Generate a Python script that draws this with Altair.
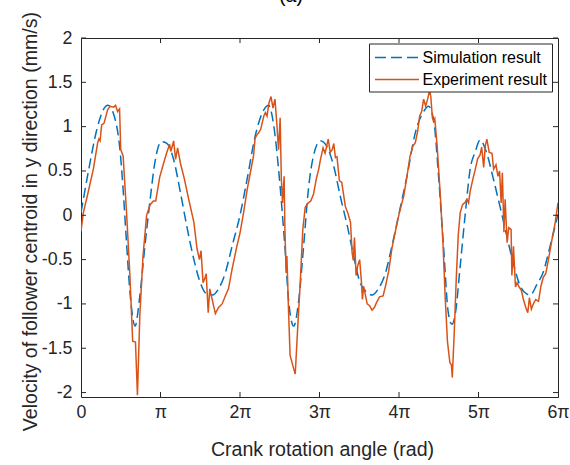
import altair as alt
import pandas as pd

# x values in units of pi (rad / pi)
sim_x = [0.00, 0.09, 0.20, 0.28, 0.34, 0.43, 0.49, 0.53, 0.57, 0.62, 0.68, 0.74, 0.80, 0.87, 0.93,
         1.01, 1.08, 1.165, 1.25, 1.33, 1.42, 1.50, 1.585, 1.65, 1.73, 1.815, 1.90,
         2.00, 2.09, 2.19, 2.30, 2.36, 2.42, 2.485, 2.53, 2.57, 2.61, 2.675, 2.74, 2.80, 2.86, 2.935,
         3.01, 3.09, 3.18, 3.26, 3.35, 3.43, 3.51, 3.60, 3.66, 3.74, 3.83, 3.91,
         4.00, 4.10, 4.205, 4.31, 4.37, 4.435, 4.50, 4.56, 4.62, 4.665, 4.71, 4.77, 4.835, 4.895, 4.96,
         5.02, 5.10, 5.19, 5.27, 5.36, 5.44, 5.525, 5.61, 5.65, 5.735, 5.815, 5.90, 6.00]
sim_y = [0.03, 0.48, 0.97, 1.19, 1.24, 1.08, 0.74, 0.29, -0.27, -0.91, -1.25, -0.91, -0.38, 0.18, 0.60,
         0.83, 0.81, 0.63, 0.26, -0.12, -0.50, -0.76, -0.89, -0.90, -0.83, -0.65, -0.35,
         0.00, 0.41, 0.89, 1.19, 1.24, 1.04, 0.52, 0.05, -0.42, -0.95, -1.25, -0.95, -0.35, 0.29, 0.71,
         0.84, 0.78, 0.55, 0.22, -0.12, -0.46, -0.76, -0.87, -0.90, -0.83, -0.65, -0.35,
         0.02, 0.44, 0.93, 1.17, 1.23, 1.08, 0.41, -0.35, -1.10, -1.23, -1.10, -0.57, 0.03, 0.52, 0.72,
         0.85, 0.71, 0.40, 0.10, -0.25, -0.55, -0.80, -0.89, -0.90, -0.78, -0.64, -0.35, 0.01]

exp_x = [0.00, 0.03, 0.09, 0.155, 0.21, 0.225, 0.24, 0.26, 0.29, 0.335, 0.365, 0.41, 0.435, 0.46, 0.485,
         0.50, 0.53, 0.575, 0.615, 0.65, 0.685, 0.71, 0.74, 0.78, 0.825, 0.87, 0.91, 0.94, 0.99,
         1.04, 1.08, 1.115, 1.13, 1.165, 1.19, 1.215, 1.25, 1.30, 1.355, 1.42, 1.46, 1.49, 1.51,
         1.535, 1.555, 1.575, 1.60, 1.62, 1.65, 1.69, 1.73, 1.775, 1.815, 1.855, 1.90, 1.96,
         2.00, 2.045, 2.09, 2.13, 2.17, 2.19, 2.215, 2.235, 2.26, 2.30, 2.32, 2.34, 2.365, 2.39,
         2.415, 2.44, 2.465, 2.485, 2.505, 2.52, 2.535, 2.555, 2.565, 2.58, 2.59, 2.61, 2.63,
         2.675, 2.695, 2.725, 2.76, 2.79, 2.82, 2.86, 2.89, 2.925, 2.96, 2.99,
         3.01, 3.045, 3.07, 3.11, 3.135, 3.16, 3.18, 3.20, 3.22, 3.25, 3.28, 3.325, 3.355, 3.39,
         3.41, 3.425, 3.44, 3.46, 3.48, 3.505, 3.525, 3.54, 3.555, 3.575, 3.60, 3.63, 3.66,
         3.69, 3.72, 3.755, 3.80, 3.83, 3.87, 3.91, 3.95,
         4.00, 4.06, 4.10, 4.14, 4.175, 4.205, 4.235, 4.26, 4.285, 4.31, 4.335, 4.36, 4.385,
         4.40, 4.42, 4.435, 4.45, 4.48, 4.52, 4.555, 4.58, 4.61, 4.64, 4.66, 4.67, 4.695, 4.72,
         4.745, 4.77, 4.80, 4.835, 4.855, 4.875, 4.895, 4.93, 4.96, 4.99,
         5.02, 5.04, 5.065, 5.085, 5.105, 5.135, 5.17, 5.19, 5.22, 5.245, 5.265, 5.285, 5.30,
         5.32, 5.335, 5.36, 5.38, 5.41, 5.42, 5.44, 5.465, 5.485, 5.505, 5.54, 5.565, 5.595,
         5.62, 5.64, 5.665, 5.69, 5.72, 5.755, 5.785, 5.815, 5.845, 5.88, 5.925, 5.965, 6.00]
exp_y = [-0.18, 0.03, 0.26, 0.52, 0.82, 0.86, 0.84, 1.02, 1.04, 1.19, 1.23, 1.22, 1.24, 1.17, 1.20,
         0.74, 0.67, 0.00, -0.68, -1.42, -1.43, -2.03, -1.13, -0.46, 0.00, 0.12, 0.16, 0.16, 0.43,
         0.59, 0.71, 0.80, 0.72, 0.84, 0.63, 0.76, 0.59, 0.41, 0.18, -0.08, -0.38, -0.50, -0.40,
         -0.76, -0.72, -0.66, -1.10, -0.83, -0.95, -1.11, -1.04, -1.00, -0.91, -0.83, -0.61, -0.35,
         -0.20, 0.03, 0.29, 0.48, 0.67, 0.87, 0.91, 0.93, 0.97, 1.12, 1.16, 1.12, 1.27, 1.34,
         1.21, 1.31, 1.01, 0.74, 1.10, 0.41, 0.14, 0.44, -0.16, -0.65, -0.46, -1.06, -1.58,
         -1.73, -1.79, -1.28, -0.72, -0.16, 0.09, 0.14, 0.16, 0.24, 0.41, 0.52,
         0.62, 0.76, 0.70, 0.86, 0.71, 0.74, 0.81, 0.65, 0.66, 0.39, 0.37, 0.10, 0.03, -0.08,
         -0.42, -0.51, -0.25, -0.68, -0.57, -0.50, -0.72, -0.95, -0.80, -0.89, -1.00, -1.02, -1.07,
         -1.04, -0.98, -0.92, -0.91, -0.80, -0.63, -0.38, -0.20,
         0.01, 0.22, 0.44, 0.67, 0.78, 0.82, 0.95, 1.12, 1.17, 1.31, 1.23, 1.31, 1.41,
         1.34, 1.10, 1.06, 1.09, 0.78, 0.22, -0.35, -0.91, -1.43, -1.66, -1.69, -1.83, -1.32, -0.72,
         -0.23, 0.03, 0.12, 0.15, 0.18, 0.14, 0.27, 0.41, 0.52, 0.64,
         0.68, 0.77, 0.54, 0.78, 0.86, 0.71, 0.70, 0.52, 0.57, 0.44, 0.50, 0.14, 0.48,
         -0.19, 0.18, -0.31, -0.14, -0.16, -0.68, -0.35, -0.81, -0.76, -0.80, -0.85, -0.95, -1.04,
         -1.10, -0.93, -1.06, -1.00, -0.95, -0.97, -0.80, -0.70, -0.66, -0.50, -0.27, -0.08, 0.14]

x_ticks = [0, 1, 2, 3, 4, 5, 6]
y_ticks = [-2, -1.5, -1, -0.5, 0, 0.5, 1, 1.5, 2]
series_names = ["Simulation result", "Experiment result"]
title_text = "(a)"
x_title = "Crank rotation angle (rad)"
y_title = "Velocity of follower centroid in y direction (mm/s)"

W, H = 477, 359
AXC = "#262626"
FONT = "Liberation Sans"
BLUE = "#0072BD"
ORANGE = "#D95319"

xs = alt.Scale(domain=[0, 6], nice=False, zero=False)
ys = alt.Scale(domain=[-2.05, 2], nice=False, zero=False)

x_axis = alt.Axis(
    values=x_ticks, title=x_title,
    labelExpr="datum.value == 0 ? '0' : datum.value == 1 ? 'π' : datum.value + 'π'",
    labelFlush=False, labelPadding=6, titleX=241, titleY=58, titleBaseline="alphabetic")
y_axis = alt.Axis(
    values=y_ticks, title=y_title,
    labelExpr="'' + datum.value", labelPadding=9,
    titleX=-45, titleY=183, titleAngle=270, titleAlign="center", titleBaseline="alphabetic")

def X(field="x"):
    return alt.X(f"{field}:Q", scale=xs, axis=x_axis, title=x_title)

def Y(field="y"):
    return alt.Y(f"{field}:Q", scale=ys, axis=y_axis, title=y_title)

sim_df = pd.DataFrame({"x": sim_x, "y": sim_y})
exp_df = pd.DataFrame({"x": exp_x, "y": exp_y})
xt_df = pd.DataFrame({"x": x_ticks[1:-1]})
yt_df = pd.DataFrame({"y": y_ticks})
one = pd.DataFrame({"a": [0]})

sim = alt.Chart(sim_df).mark_line(color=BLUE, strokeWidth=1.5, strokeDash=[10, 5],
                                  interpolate="monotone", clip=True).encode(x=X(), y=Y())

exp = alt.Chart(exp_df).mark_line(color=ORANGE, strokeWidth=1.5, clip=True).encode(x=X(), y=Y())

tk = dict(color=AXC, strokeWidth=1)
left_t = alt.Chart(yt_df).mark_rule(**tk).encode(y=Y(), x=alt.value(0), x2=alt.value(5))
right_t = alt.Chart(yt_df).mark_rule(**tk).encode(y=Y(), x=alt.value(W - 5), x2=alt.value(W))
bot_t = alt.Chart(xt_df).mark_rule(**tk).encode(x=X(), y=alt.value(H - 5), y2=alt.value(H))
top_t = alt.Chart(xt_df).mark_rule(**tk).encode(x=X(), y=alt.value(0), y2=alt.value(5))

# legend box
lx0, lx1, ly0, ly1 = 288.5, 471.5, 6, 54
leg_box = alt.Chart(one).mark_rect(fill="white", stroke=AXC, strokeWidth=1).encode(
    x=alt.value(lx0), x2=alt.value(lx1), y=alt.value(ly0), y2=alt.value(ly1))
leg_sim = alt.Chart(one).mark_rule(color=BLUE, strokeWidth=1.5, strokeDash=[11, 5]).encode(
    x=alt.value(294), x2=alt.value(338), y=alt.value(19.5))
leg_exp = alt.Chart(one).mark_rule(color=ORANGE, strokeWidth=1.5).encode(
    x=alt.value(294), x2=alt.value(338), y=alt.value(41.5))
leg_t1 = alt.Chart(one).mark_text(text=series_names[0], align="left", baseline="middle",
                                  font=FONT, fontSize=16, color="#000000").encode(
    x=alt.value(341.5), y=alt.value(19.5))
leg_t2 = alt.Chart(one).mark_text(text=series_names[1], align="left", baseline="middle",
                                  font=FONT, fontSize=16, color="#000000").encode(
    x=alt.value(341.5), y=alt.value(41.5))

title_mark = alt.Chart(one).mark_text(text=title_text, align="center", baseline="alphabetic",
                                      font=FONT, fontSize=19.6, color="#000000").encode(
    x=alt.value(210), y=alt.value(-36))

chart = alt.layer(
    sim, exp, left_t, right_t, bot_t, top_t,
    leg_box, leg_sim, leg_exp, leg_t1, leg_t2, title_mark
).properties(
    width=W, height=H,
    padding={"left": 81, "top": 38, "right": 12, "bottom": 68},
    autosize=alt.AutoSizeParams(type="none"),
    background="white",
).configure_view(
    stroke=AXC, strokeWidth=1
).configure_axis(
    grid=False, ticks=False, domain=False,
    labelFont=FONT, titleFont=FONT, labelFontSize=17.8, titleFontSize=19.6,
    labelColor=AXC, titleColor=AXC, titleFontWeight="normal",
)

chart.save("out.html", embed_options={"renderer": "svg", "actions": False})
